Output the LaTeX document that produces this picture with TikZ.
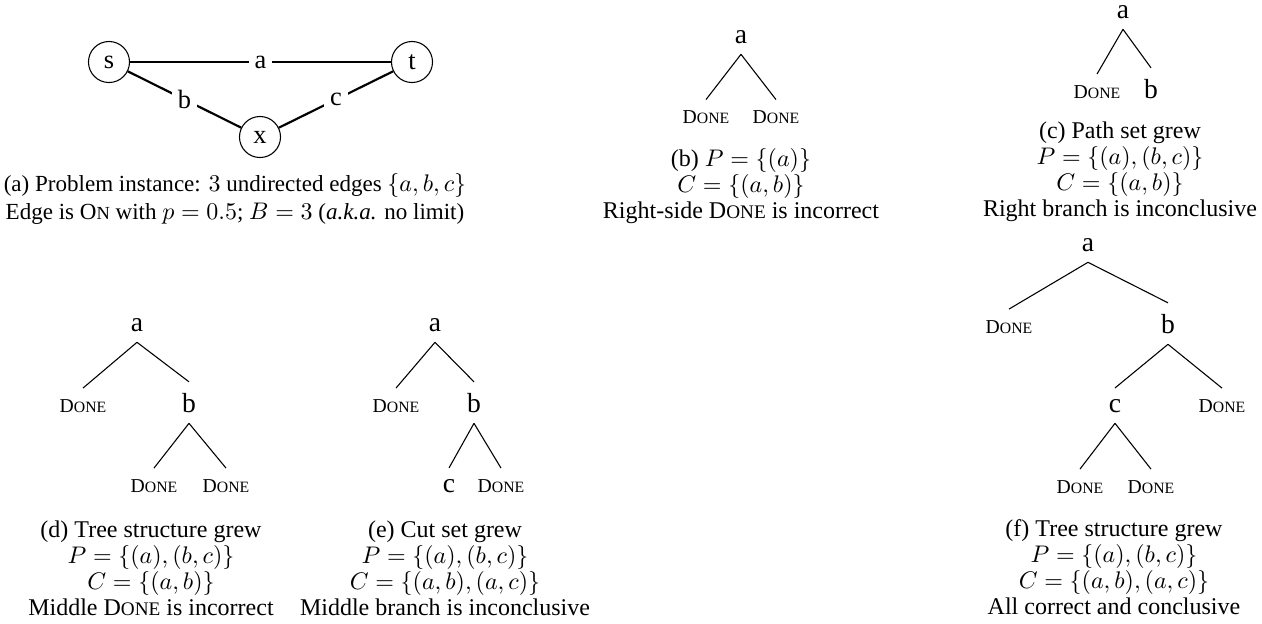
\documentclass[tikz,border=0pt]{standalone}
\usepackage[no-math]{fontspec}
\setmainfont{Liberation Serif}
\usepackage{graphicx}
\newcommand\fsc[2]{#1\scalebox{0.8}{#2}}
\newcommand\DONE{\fsc{D}{ONE}}
\newcommand\ONword{\fsc{O}{N}}
\begin{document}
\begin{tikzpicture}[x=0.41667pt,y=-0.41667pt,
  vert/.style={circle,draw,line width=0.45pt,minimum size=17.1pt,inner sep=0pt,font=\fontsize{11}{12}\selectfont},
  gedge/.style={line width=0.9pt},
  elab/.style={fill=white,inner sep=2.5pt,font=\fontsize{11}{12}\selectfont},
  tlab/.style={anchor=base,inner sep=4.4pt,font=\fontsize{11.5}{12}\selectfont},
  tdone/.style={anchor=base,inner sep=4.4pt,font=\fontsize{8.2}{9}\selectfont},
  tedge/.style={line width=0.45pt},
  captxt/.style={align=center,inner sep=0pt,font=\fontsize{10}{10.8}\selectfont}]
\useasboundingbox (0,0) rectangle (1262,623);

% (a) graph
\node[vert] (s) at (109,62) {s};
\node[vert] (t) at (412,62) {t};
\node[vert] (x) at (260,137) {x};
\draw[gedge] (s) -- node[elab] {a} (t);
\draw[gedge] (s) -- node[elab] {b} (x);
\draw[gedge] (x) -- node[elab] {c} (t);
\node[captxt,font=\fontsize{9.6}{11.7}\selectfont] (capa) at (235,199) {(a) Problem instance: $3$ undirected edges $\{a,b,c\}$\\Edge is \ONword{} with $p=0.5$; $B=3$ (\emph{a.k.a.} no limit)};

% (b)
\node[tlab] (ba) at (741,43) {a};
\node[tdone] (bl) at (706,123.5) {\DONE};
\node[tdone] (br) at (776,123.5) {\DONE};
\draw[tedge] (ba.south) -- (bl.north);
\draw[tedge] (ba.south) -- (br.north);
\node[captxt] (capb) at (741,186) {(b) $P=\{(a)\}$\\$C=\{(a,b)\}$\\Right-side \DONE{} is incorrect};

% (c)
\node[tlab] (ca) at (1123,18) {a};
\node[tdone] (cl) at (1097,98) {\DONE};
\node[tlab] (cb) at (1151,98) {b};
\draw[tedge] (ca.south) -- (cl.north);
\draw[tedge] (ca.south) -- (cb.north);
\node[captxt] (capc) at (1120,172) {(c) Path set grew\\$P=\{(a),(b,c)\}$\\$C=\{(a,b)\}$\\Right branch is inconclusive};

% (d)
\node[tlab] (da) at (137,331) {a};
\node[tdone] (dl) at (83,412) {\DONE};
\node[tlab] (db) at (189,412) {b};
\node[tdone] (dbl) at (154,492) {\DONE};
\node[tdone] (dbr) at (226,492) {\DONE};
\draw[tedge] (da.south) -- (dl.north);
\draw[tedge] (da.south) -- (db.north);
\draw[tedge] (db.south) -- (dbl.north);
\draw[tedge] (db.south) -- (dbr.north);
\node[captxt] (capd) at (151,568) {(d) Tree structure grew\\$P=\{(a),(b,c)\}$\\$C=\{(a,b)\}$\\Middle \DONE{} is incorrect};

% (e)
\node[tlab] (ea) at (435,331) {a};
\node[tdone] (el) at (396,412) {\DONE};
\node[tlab] (eb) at (474,412) {b};
\node[tlab] (ebl) at (449,492) {c};
\node[tdone] (ebr) at (501,492) {\DONE};
\draw[tedge] (ea.south) -- (el.north);
\draw[tedge] (ea.south) -- (eb.north);
\draw[tedge] (eb.south) -- (ebl.north);
\draw[tedge] (eb.south) -- (ebr.north);
\node[captxt] (cape) at (445,568) {(e) Cut set grew\\$P=\{(a),(b,c)\}$\\$C=\{(a,b),(a,c)\}$\\Middle branch is inconclusive};

% (f)
\node[tlab] (fa) at (1088,251) {a};
\node[tdone] (fl) at (1009,333) {\DONE};
\node[tlab] (fb) at (1168,333) {b};
\node[tlab] (fc) at (1115,412) {c};
\node[tdone] (fbr) at (1222,412) {\DONE};
\node[tdone] (fcl) at (1080,493) {\DONE};
\node[tdone] (fcr) at (1151,493) {\DONE};
\draw[tedge] (fa.south) -- (fl.north);
\draw[tedge] (fa.south) -- (fb.north);
\draw[tedge] (fb.south) -- (fc.north);
\draw[tedge] (fb.south) -- (fbr.north);
\draw[tedge] (fc.south) -- (fcl.north);
\draw[tedge] (fc.south) -- (fcr.north);
\node[captxt] (capf) at (1114,567) {(f) Tree structure grew\\$P=\{(a),(b,c)\}$\\$C=\{(a,b),(a,c)\}$\\All correct and conclusive};
\end{tikzpicture}
\end{document}
